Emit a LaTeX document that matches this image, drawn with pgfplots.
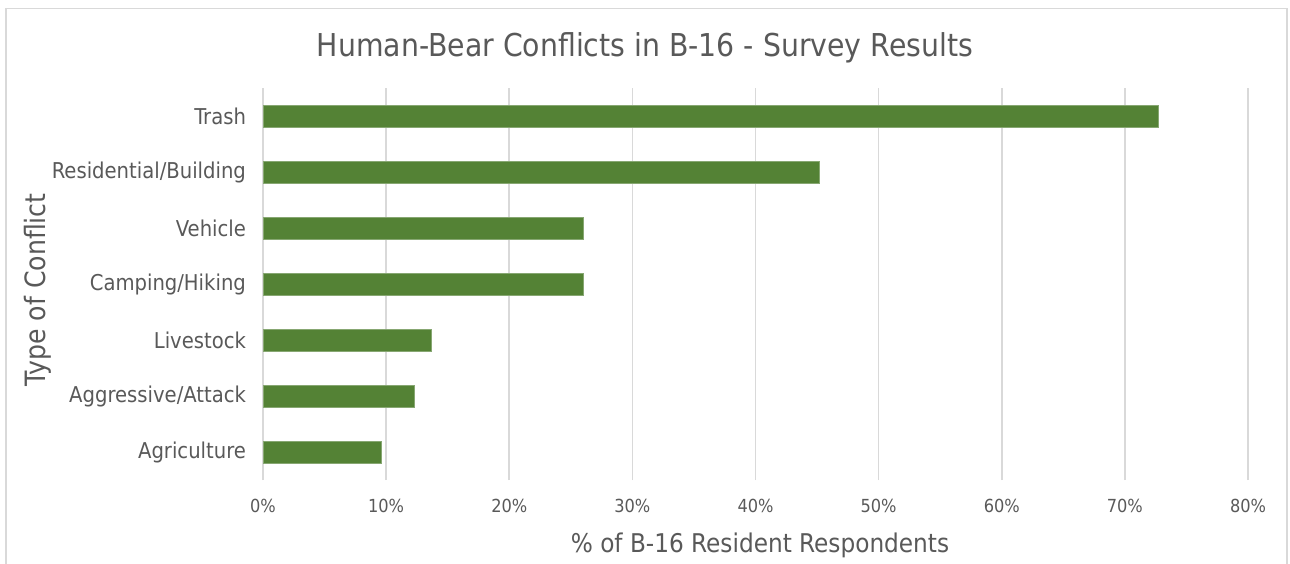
\documentclass[border=0pt]{standalone}
\usepackage{pgfplots}
\pgfplotsset{compat=1.18}
\usepackage{fontspec}
\setmainfont{DejaVu Sans Condensed}
\definecolor{bargreen}{HTML}{548235}
\definecolor{txt}{HTML}{595959}
\definecolor{gridc}{HTML}{D9D9D9}
\begin{document}
\begin{tikzpicture}
\useasboundingbox (0,0) rectangle (645pt,281.5pt);
\draw[gridc, line width=0.8pt] (3pt,-5pt) rectangle (643.5pt,277.2pt);
\begin{axis}[
  at={(131.5pt,41.5pt)}, anchor=south west,
  scale only axis, width=492.5pt, height=196pt,
  xbar, bar width=11pt, bar shift=0pt,
  xmin=0, xmax=80, ymin=-0.5, ymax=6.5,
  xtick={0,10,...,80},
  xticklabel={\pgfmathprintnumber{\tick}\%},
  ytick={0,...,6},
  yticklabels={Agriculture,Aggressive/Attack,Livestock,Camping/Hiking,Vehicle,Residential/Building,Trash},
  axis line style={draw=none},
  major tick length=0pt,
  xmajorgrids, grid style={gridc, line width=0.85pt},
  /pgf/number format/assume math mode=true,
  tick label style={txt},
  xticklabel style={font=\fontsize{9}{10}\selectfont, yshift=-6pt},
  yticklabel style={font=\fontsize{10.9}{12}\selectfont, xshift=-5pt},
  title={Human-Bear Conflicts in B-16 - Survey Results},
  title style={txt, font=\fontsize{15.75}{18}\selectfont, at={(axis description cs:0.3878,1.107)}, anchor=center, yshift=-7pt},
  xlabel={\% of B-16 Resident Respondents},
  xlabel style={txt, font=\fontsize{12.9}{15}\selectfont, at={(axis description cs:0.5046,-0.168)}, anchor=center},
  ylabel={Type of Conflict},
  ylabel style={txt, font=\fontsize{14}{16}\selectfont, at={(axis description cs:-0.2284,0.485)}, anchor=center, rotate=0},
]
\addplot[fill=bargreen, draw=bargreen!70!white, line width=0.3pt] coordinates {
  (9.6,0) (12.3,1) (13.7,2) (26.0,3) (26.0,4) (45.2,5) (72.7,6)
};
\end{axis}
\end{tikzpicture}
\end{document}
